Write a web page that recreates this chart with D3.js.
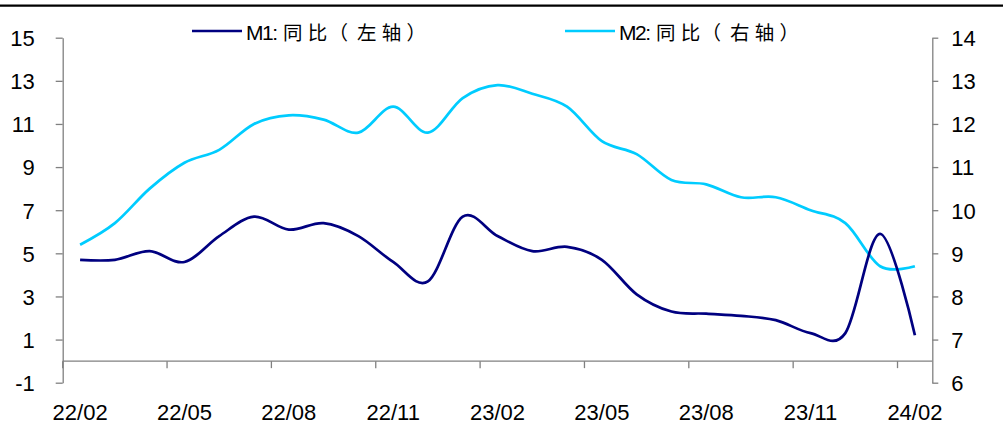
<!DOCTYPE html>
<html>
<head>
<meta charset="utf-8">
<script src="https://cdn.jsdelivr.net/npm/d3@7/dist/d3.min.js"></script>
<style>
  html, body { margin: 0; padding: 0; background: #fff; }
  svg { display: block; }
  text { font-family: "Liberation Sans", Arial, "Noto Sans CJK SC", sans-serif; fill: #000; }
</style>
</head>
<body>
<svg id="chart" width="1003" height="424"></svg>
<script>
// Monthly categories, Feb 2022 – Feb 2024
const months = ["22/02","22/03","22/04","22/05","22/06","22/07","22/08","22/09","22/10","22/11","22/12",
                "23/01","23/02","23/03","23/04","23/05","23/06","23/07","23/08","23/09","23/10","23/11","23/12",
                "24/01","24/02"];
// M1 year-on-year growth, % (left axis)
const m1 = [4.7, 4.7, 5.1, 4.6, 5.8, 6.7, 6.1, 6.4, 5.8, 4.6, 3.7,
            6.7, 5.8, 5.1, 5.3, 4.7, 3.1, 2.3, 2.2, 2.1, 1.9, 1.3, 1.3,
            5.9, 1.2];
// M2 year-on-year growth, % (right axis)
const m2 = [9.2, 9.7, 10.5, 11.1, 11.4, 12.0, 12.2, 12.1, 11.8, 12.4, 11.8,
            12.6, 12.9, 12.7, 12.4, 11.6, 11.3, 10.7, 10.6, 10.3, 10.3, 10.0, 9.7,
            8.7, 8.7];
const leftTicks = [-1, 1, 3, 5, 7, 9, 11, 13, 15];
const rightTicks = [6, 7, 8, 9, 10, 11, 12, 13, 14];
const xTickMonths = ["22/02","22/05","22/08","22/11","23/02","23/05","23/08","23/11","24/02"];
const seriesCodes = ["M1:", "M2:"];
const seriesLabels = ["同比（左轴）", "同比（右轴）"];

const colors = { m1: "#000080", m2: "#00ccff", axis: "#808080" };
const svg = d3.select("#chart");
const plot = { left: 62.7, right: 932.3, top: 37.7, bottom: 382.7 };

const x = d3.scaleBand().domain(months).range([plot.left, plot.right]).padding(0);
const bw = x.bandwidth();
const yL = d3.scaleLinear().domain([-1, 15]).range([plot.bottom, plot.top]);
const yR = d3.scaleLinear().domain([6, 14]).range([plot.bottom, plot.top]);

// plain integer labels with an ASCII hyphen for negatives
const intFmt = d => String(d);

// top rule
svg.append("line").attr("x1", 0).attr("x2", 1003).attr("y1", 5.7).attr("y2", 5.7)
  .attr("stroke", "#000").attr("stroke-width", 2.2);

function styleAxis(g) {
  g.selectAll("path.domain").attr("stroke", colors.axis).attr("stroke-width", 1.3);
  g.selectAll(".tick line").attr("stroke", colors.axis).attr("stroke-width", 1.3);
  g.selectAll(".tick text").attr("font-size", 22).attr("fill", "#000")
    .attr("font-family", "Liberation Sans, Arial, sans-serif");
}

// left axis
const gL = svg.append("g").attr("transform", `translate(${plot.left},0)`)
  .call(d3.axisLeft(yL).tickValues(leftTicks).tickSize(7).tickSizeOuter(0).tickPadding(21).tickFormat(intFmt));
styleAxis(gL);
gL.selectAll(".tick text").attr("dy", "0.36em");

// right axis
const gR = svg.append("g").attr("transform", `translate(${plot.right},0)`)
  .call(d3.axisRight(yR).tickValues(rightTicks).tickSize(6).tickSizeOuter(0).tickPadding(13).tickFormat(intFmt));
styleAxis(gR);
gR.selectAll(".tick text").attr("dy", "0.36em");

// category axis at zero of the left scale; ticks sit on category boundaries, labels at centres
const gX = svg.append("g").attr("transform", `translate(0,${yL(0)})`)
  .call(d3.axisBottom(x).tickValues(xTickMonths).tickSize(7).tickSizeOuter(0).tickPadding(0));
styleAxis(gX);
gX.selectAll(".tick line").attr("transform", `translate(${-bw / 2},0)`);
gX.selectAll(".tick text").attr("y", 0).attr("dy", 0)
  .attr("transform", `translate(0,${420 - yL(0)})`);
gX.select("path.domain").attr("d", `M${plot.left},0H${plot.right}`);

// smoothed series lines
const cx = d => x(d) + bw / 2;
const lineL = d3.line().x((d, i) => cx(months[i])).y(d => yL(d)).curve(d3.curveCardinal.tension(0));
const lineR = d3.line().x((d, i) => cx(months[i])).y(d => yR(d)).curve(d3.curveCardinal.tension(0));

svg.append("path").datum(m2).attr("d", lineR)
  .attr("fill", "none").attr("stroke", colors.m2).attr("stroke-width", 2.7).attr("stroke-linejoin", "round");
svg.append("path").datum(m1).attr("d", lineL)
  .attr("fill", "none").attr("stroke", colors.m1).attr("stroke-width", 2.7).attr("stroke-linejoin", "round");

// legend: swatch, Latin code, then wide-pitched CJK characters
const legendItems = [
  { code: seriesCodes[0], label: seriesLabels[0], color: colors.m1, x0: 192 },
  { code: seriesCodes[1], label: seriesLabels[1], color: colors.m2, x0: 565 }
];
const pitch = 24.7;
const lg = svg.append("g");
legendItems.forEach(it => {
  lg.append("line").attr("x1", it.x0).attr("x2", it.x0 + 50).attr("y1", 31).attr("y2", 31)
    .attr("stroke", it.color).attr("stroke-width", 2.7);
  const t = lg.append("text").attr("y", 40).attr("font-size", 21);
  t.append("tspan").attr("x", it.x0 + 54).attr("letter-spacing", "-1.4").text(it.code);
  Array.from(it.label).forEach((ch, k) => {
    const shift = ch === "（" ? -4 : 0;
    t.append("tspan").attr("x", it.x0 + 91 + k * pitch + shift)
      .attr("font-family", "Noto Sans CJK SC, sans-serif").attr("font-size", 19.5).text(ch);
  });
});
</script>
</body>
</html>
